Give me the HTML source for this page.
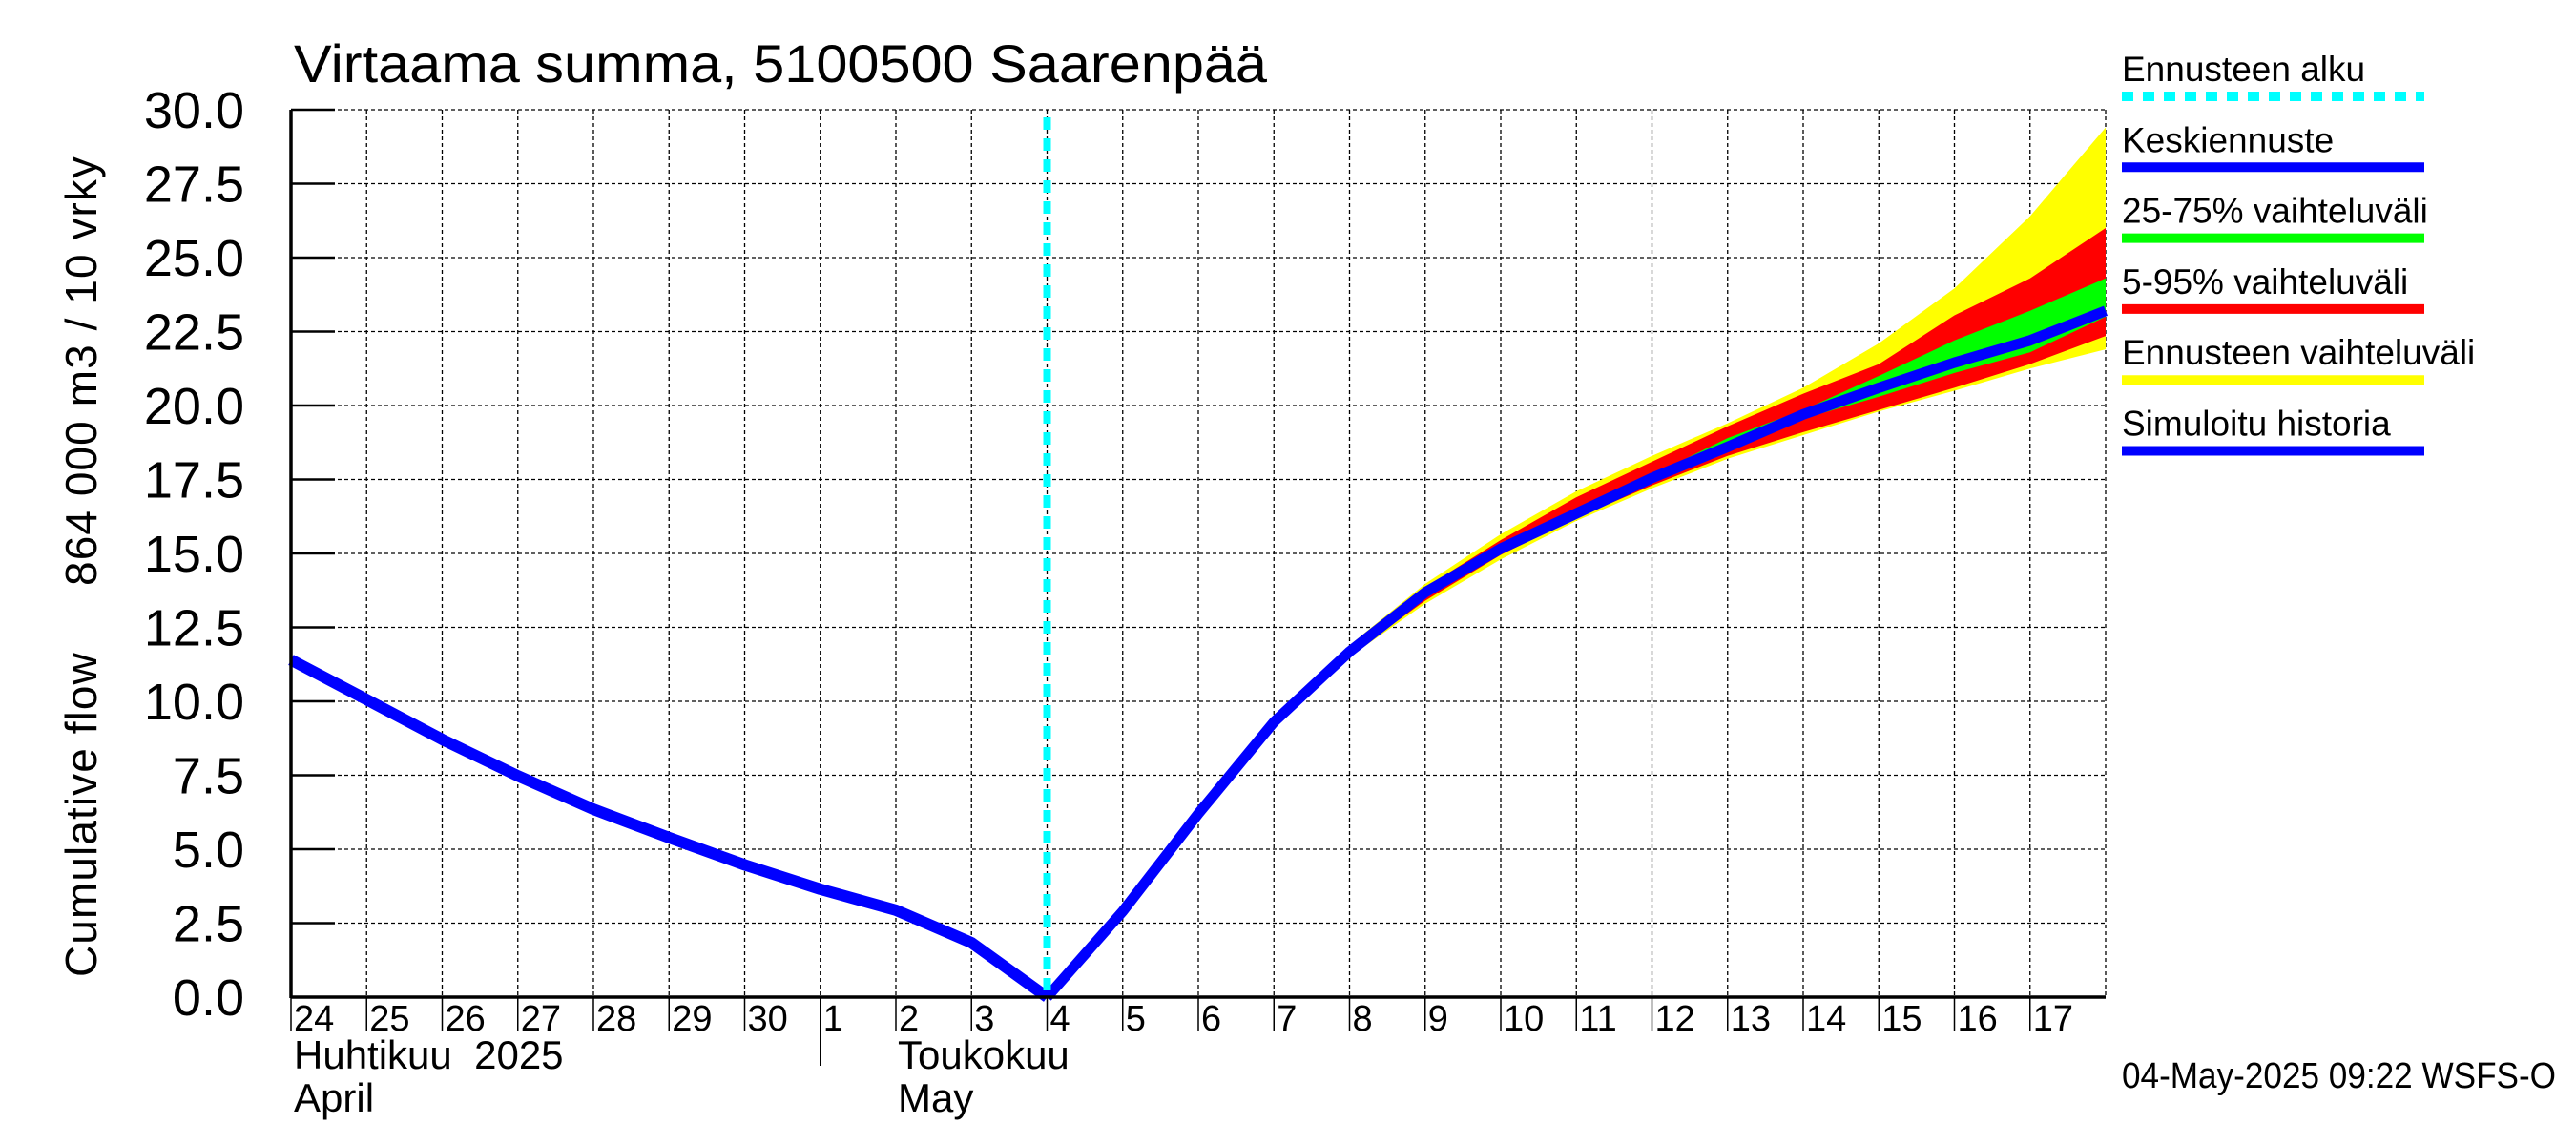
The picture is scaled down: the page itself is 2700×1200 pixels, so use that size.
<!DOCTYPE html>
<html><head><meta charset="utf-8"><style>
html,body{margin:0;padding:0;background:#fff;}
svg{display:block;font-family:"Liberation Sans",sans-serif;}
</style></head><body>
<svg id="chart" width="2700" height="1200" viewBox="0 0 2700 1200" xmlns="http://www.w3.org/2000/svg">
<rect width="2700" height="1200" fill="#fff"/>
<text x="308" y="86" font-size="56" textLength="1020" lengthAdjust="spacingAndGlyphs">Virtaama summa, 5100500 Saarenpää</text>
<text transform="translate(101,594) rotate(-90)" text-anchor="middle" font-size="46" textLength="860" lengthAdjust="spacing" xml:space="preserve" style="white-space:pre">Cumulative flow     864 000 m3 / 10 vrky</text>
<g id="grid"></g>
<g id="bands"></g>
<g id="lines"></g>
<g id="axes"></g>
<g id="legend"></g>
<text x="2224" y="1140" font-size="38" textLength="455" lengthAdjust="spacingAndGlyphs">04-May-2025 09:22 WSFS-O</text>
</svg>
<script>
const yTicks = [0,2.5,5,7.5,10,12.5,15,17.5,20,22.5,25,27.5,30];
const yTickLabels = ["0.0","2.5","5.0","7.5","10.0","12.5","15.0","17.5","20.0","22.5","25.0","27.5","30.0"];
const dayLabels = ["24","25","26","27","28","29","30","1","2","3","4","5","6","7","8","9","10","11","12","13","14","15","16","17"];
const forecastStart = 10;
const histDays = [0,1,2,3,4,5,6,7,8,9,10];
const histValues = [11.4,10.06,8.71,7.48,6.35,5.39,4.47,3.65,2.94,1.84,0];
const fcDays = [10,11,12,13,14,15,16,17,18,19,20,21,22,23,24];
const meanValues = [0,2.9,6.2,9.3,11.68,13.68,15.16,16.35,17.55,18.6,19.7,20.6,21.45,22.2,23.2];
const yellowHi = [0,2.95,6.25,9.4,11.9,13.97,15.65,17.1,18.3,19.4,20.6,22.1,23.96,26.4,29.4];
const yellowLo = [0,2.85,6.15,9.2,11.5,13.3,14.8,16.1,17.2,18.2,19.0,19.8,20.5,21.25,21.9];
const redHi = [0,2.92,6.22,9.35,11.8,13.85,15.45,16.9,18.1,19.3,20.4,21.4,23.05,24.3,26.0];
const redLo = [0,2.88,6.18,9.25,11.55,13.4,14.95,16.2,17.3,18.3,19.1,19.85,20.6,21.4,22.35];
const greenHi = [0,2.91,6.21,9.32,11.72,13.75,15.25,16.45,17.65,18.9,19.85,21.0,22.2,23.2,24.3];
const greenLo = [0,2.89,6.19,9.28,11.64,13.6,15.07,16.25,17.45,18.7,19.55,20.3,21.1,21.8,23.0];

const X0=305,X1=2207,Y0=1045,Y1=115,NDAYS=24;
const sx=d=>X0+(X1-X0)*d/NDAYS;
const sy=v=>Y0-(Y0-Y1)*v/30;
const NS="http://www.w3.org/2000/svg";
function mk(tag,attrs,parent){const e=document.createElementNS(NS,tag);for(const k in attrs)e.setAttribute(k,attrs[k]);parent.appendChild(e);return e;}
const grid=document.getElementById('grid'),bands=document.getElementById('bands'),lines=document.getElementById('lines'),axes=document.getElementById('axes'),legend=document.getElementById('legend');

for(let i=1;i<=NDAYS;i++){const l=mk('line',{x1:sx(i),x2:sx(i),y1:Y1,y2:Y0,stroke:'#000','stroke-width':1.3,'stroke-dasharray':'4,3'},grid);

}
yTicks.forEach(v=>{if(v===0)return;const l=mk('line',{x1:X0,x2:X1,y1:sy(v),y2:sy(v),stroke:'#000','stroke-width':1.3,'stroke-dasharray':'4,3'},grid);

});

function band(hi,lo,color,name){let pts=fcDays.map((d,i)=>sx(d)+','+sy(hi[i]));for(let i=fcDays.length-1;i>=0;i--)pts.push(sx(fcDays[i])+','+sy(lo[i]));
const p=mk('polygon',{points:pts.join(' '),fill:color},bands);

}
band(yellowHi,yellowLo,'#ffff00','band-ennusteen-vaihteluvali');
band(redHi,redLo,'#ff0000','band-5-95');
band(greenHi,greenLo,'#00ff00','band-25-75');

const hl=mk('polyline',{points:histDays.map((d,i)=>sx(d)+','+sy(histValues[i])).join(' '),fill:'none',stroke:'#0000ff','stroke-width':12,'stroke-linejoin':'round'},lines);


const ml=mk('polyline',{points:fcDays.map((d,i)=>sx(d)+','+sy(meanValues[i])).join(' '),fill:'none',stroke:'#0000ff','stroke-width':11,'stroke-linejoin':'round'},lines);


const fs=mk('line',{x1:sx(forecastStart),x2:sx(forecastStart),y1:Y1+8,y2:Y0,stroke:'#00ffff','stroke-width':8,'stroke-dasharray':'13,9'},lines);



mk('line',{x1:X0,x2:X0,y1:Y1,y2:Y0+1,stroke:'#000','stroke-width':3.5},axes);
mk('line',{x1:X0,x2:X1,y1:Y0,y2:Y0,stroke:'#000','stroke-width':3.5},axes);
yTicks.forEach((v,i)=>{mk('line',{x1:X0,x2:X0+46,y1:sy(v),y2:sy(v),stroke:'#000','stroke-width':2.5},axes);
const t=mk('text',{x:X0-49,y:sy(v)+19,'text-anchor':'end','font-size':54},axes);t.textContent=yTickLabels[i];

});
dayLabels.forEach((s,i)=>{mk('line',{x1:sx(i),x2:sx(i),y1:Y0,y2:Y0+36,stroke:'#000','stroke-width':1.5},axes);
const t=mk('text',{x:sx(i)+3,y:1080,'font-size':38},axes);t.textContent=s;

});
mk('line',{x1:sx(7),x2:sx(7),y1:Y0,y2:1117,stroke:'#000','stroke-width':1.5},axes);
[["Huhtikuu  2025",sx(0)+3,1120],["April",sx(0)+3,1165],["Toukokuu",sx(8)+2,1120],["May",sx(8)+2,1165]].forEach(a=>{
const t=mk('text',{x:a[1],y:a[2],'font-size':42},axes);t.textContent=a[0];t.style.whiteSpace='pre';

});

const legItems=[["Ennusteen alku","#00ffff",true],["Keskiennuste","#0000ff",false],["25-75% vaihteluväli","#00ff00",false],["5-95% vaihteluväli","#ff0000",false],["Ennusteen vaihteluväli","#ffff00",false],["Simuloitu historia","#0000ff",false]];
legItems.forEach((it,i)=>{const y=85+i*74.3;
const t=mk('text',{x:2224,y:y,'font-size':37},legend);t.textContent=it[0];


const l=mk('line',{x1:2224,x2:2541,y1:y+16,y2:y+16,stroke:it[1],'stroke-width':10},legend);
if(it[2])l.setAttribute('stroke-dasharray','12,10');

});
</script>
</body></html>
